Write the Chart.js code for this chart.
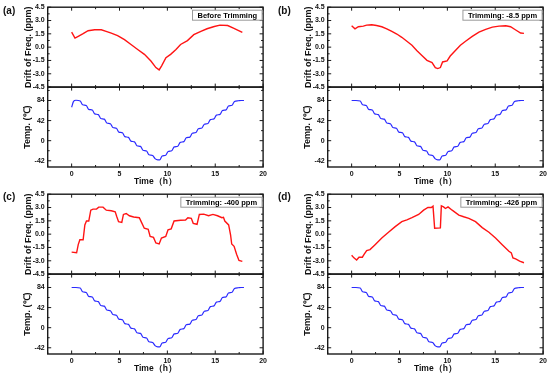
<!DOCTYPE html>
<html lang="en">
<head>
<meta charset="UTF-8">
<title>Drift of frequency and temperature</title>
<script src="https://cdn.jsdelivr.net/npm/chart.js"></script>
<style>
  body { margin: 0; background: #fff; }
  #wrap { position: relative; width: 550px; height: 375px; overflow: hidden; font-family: 'Liberation Sans', Arial, sans-serif; }
  canvas { position: absolute; }
  .tag { position: absolute; font-weight: bold; font-size: 10px; line-height: 10px; color: #111; }
</style>
</head>
<body>
<div id="wrap">
  <canvas id="pa" width="270" height="187" style="left:0;top:0"></canvas>
  <canvas id="pb" width="270" height="187" style="left:280px;top:0"></canvas>
  <canvas id="pc" width="270" height="187" style="left:0;top:187px"></canvas>
  <canvas id="pd" width="270" height="187" style="left:280px;top:187px"></canvas>
  <div class="tag" style="left:3px;top:6px">(a)</div>
  <div class="tag" style="left:278px;top:6px">(b)</div>
  <div class="tag" style="left:3px;top:192px">(c)</div>
  <div class="tag" style="left:278px;top:192px">(d)</div>
</div>
<script>
// axis ticks
const timeTicks = [0, 5, 10, 15, 20]
const timeMinor = [-2.5, 2.5, 7.5, 12.5, 17.5]
const freqTicks = [-4.5, -3, -1.5, 0, 1.5, 3, 4.5]
const freqMinor = [-3.75, -2.25, -0.75, 0.75, 2.25, 3.75]
const tempTicks = [-42, 0, 42, 84]
const tempMinor = [-21, 21, 63, 105]

// temperature profile (h, degC)
const tempTime = [0, 0.2, 0.45, 0.9, 1.15, 1.53, 1.78, 2.16, 2.41, 2.79, 3.04, 3.42, 3.67, 4.05, 4.3, 4.68,
  4.93, 5.31, 5.56, 5.94, 6.19, 6.57, 6.82, 7.2, 7.45, 7.83, 8.08, 8.46, 8.71, 9.0, 9.2, 9.45, 9.83,
  10.08, 10.46, 10.71, 11.09, 11.34, 11.72, 11.97, 12.35, 12.6, 12.98, 13.23, 13.61, 13.86, 14.24,
  14.49, 14.87, 15.12, 15.5, 15.75, 16.13, 16.38, 16.76, 17.01, 17.4, 17.7, 18]
const tempA = [70, 82, 84.5, 83, 75, 73.5, 65.5, 64, 56, 54.5, 46.5, 45, 37, 35.5, 27.5, 26,
  18, 16.5, 8.5, 7, -1, -2.5, -10.5, -12, -20, -21.5, -29.5, -31, -37.5, -40, -40, -32, -30.5,
  -22.5, -21, -13, -11.5, -3.5, -2, 6, 7.5, 15.5, 17, 25, 26.5, 34.5, 36,
  44, 45.5, 53.5, 55, 63, 64.5, 72.5, 74, 82, 83.5, 84, 84]
const tempBCD = [84, 84, 84, 83, 75, 73.5, 65.5, 64, 56, 54.5, 46.5, 45, 37, 35.5, 27.5, 26,
  18, 16.5, 8.5, 7, -1, -2.5, -10.5, -12, -20, -21.5, -29.5, -31, -37.5, -40, -40, -32, -30.5,
  -22.5, -21, -13, -11.5, -3.5, -2, 6, 7.5, 15.5, 17, 25, 26.5, 34.5, 36,
  44, 45.5, 53.5, 55, 63, 64.5, 72.5, 74, 82, 83.5, 84, 84]

// drift of frequency (h, ppm)
const freqA_t = [0, 0.35, 0.69, 1.2, 1.72, 2.41, 3.1, 3.6, 4.14, 4.8, 5.52, 6.2, 6.9, 7.6, 8.28, 8.8,
  9.14, 9.4, 9.85, 10.34, 10.9, 11.38, 12.1, 12.76, 13.5, 14.14, 14.9, 15.5, 16.3, 16.9, 17.83]
const freqA_v = [1.7, 1.03, 1.22, 1.52, 1.85, 1.96, 1.96, 1.78, 1.59, 1.3, 0.85, 0.3, -0.26, -0.81, -1.56, -2.3,
  -2.56, -2.1, -1.19, -0.81, -0.26, 0.3, 0.74, 1.41, 1.78, 2.07, 2.33, 2.48, 2.44, 2.15, 1.67]

const freqB_t = [0, 0.35, 0.7, 1.22, 1.57, 2.1, 2.6, 3.15, 3.67, 4.2, 4.72, 5.24, 5.77, 6.3, 6.8, 7.34,
  7.87, 8.4, 8.74, 9.0, 9.27, 9.5, 9.97, 10.3, 10.84, 11.36, 11.9, 12.6, 13.3, 14.0, 14.7, 15.4,
  16.1, 16.6, 17.1, 17.65, 18.0]
const freqB_v = [2.41, 2.07, 2.3, 2.37, 2.48, 2.52, 2.44, 2.3, 2.07, 1.78, 1.48, 1.11, 0.67, 0.22, -0.37, -0.93,
  -1.48, -1.74, -2.3, -2.41, -2.3, -1.67, -1.56, -1.0, -0.37, 0.22, 0.67, 1.22, 1.7, 2.0, 2.26, 2.37,
  2.41, 2.3, 1.96, 1.59, 1.55]

const freqC_t = [0, 0.52, 0.69, 0.86, 1.2, 1.38, 1.55, 1.79, 2.0, 2.24, 2.6, 2.83, 3.28, 3.62, 4.14, 4.55,
  4.72, 4.9, 5.24, 5.41, 5.7, 6.03, 6.48, 7.07, 7.3, 7.59, 8.0, 8.2, 8.55, 8.8, 9.14, 9.38, 9.83,
  10.07, 10.4, 10.7, 11.38, 11.9, 12.14, 12.5, 12.7, 13.1, 13.34, 13.8, 14.3, 14.76, 15.24, 15.7,
  15.86, 16.0, 16.4, 16.6, 16.72, 16.97, 17.24, 17.48, 17.83]
const freqC_v = [-2.03, -2.1, -1.18, -0.63, -0.63, 1.04, 1.48, 1.48, 2.7, 2.82, 2.82, 3.04, 3.04, 2.7, 2.63, 2.52,
  1.96, 1.41, 1.33, 2.22, 2.33, 2.07, 1.93, 1.85, 1.33, 0.67, 0.55, -0.26, -0.37, -1.0, -1.11, -0.44, -0.26,
  0.48, 0.6, 1.48, 1.56, 1.6, 1.85, 1.78, 1.22, 1.11, 2.22, 2.26, 2.07, 2.22, 2.07, 1.85,
  1.89, 1.48, 1.04, -0.07, -1.11, -1.37, -2.29, -2.96, -3.07]

const freqD_t = [0, 0.24, 0.52, 0.77, 1.12, 1.3, 1.57, 1.92, 2.45, 3.15, 3.85, 4.55, 5.24, 5.77, 6.3, 7.0,
  7.52, 7.97, 8.32, 8.5, 8.67, 9.27, 9.37, 9.6, 9.8, 10.07, 10.5, 11.2, 11.7, 12.24, 12.94, 13.64,
  14.34, 15.03, 15.73, 16.43, 16.68, 16.85, 17.13, 17.55, 18.0]
const freqD_v = [-2.37, -2.67, -2.92, -2.6, -2.6, -2.29, -1.85, -1.74, -1.18, -0.44, 0.22, 0.85, 1.41, 1.6, 1.85, 2.22,
  2.7, 3.0, 3.0, 3.15, 0.67, 0.7, 3.18, 3.07, 2.89, 3.07, 2.7, 2.15, 1.96, 1.78, 1.41, 0.74,
  0.22, -0.44, -1.18, -1.93, -2.11, -2.67, -2.78, -3.03, -3.22]

const FONT = "'Liberation Sans', Arial, sans-serif"
const tickFont = { family: FONT, size: 7, weight: 'bold' }
const titleFont = { family: FONT, size: 9, weight: 'bold' }

const pts = (t, v) => t.map((x, i) => ({ x: x, y: v[i] }))
const setTicks = list => s => { s.ticks = list.map(v => ({ value: v })) }

// box, inward ticks and trimming label
const framePlugin = {
  id: 'frame',
  afterDraw(chart, args, opts) {
    const { ctx, chartArea: a, scales } = chart
    const sx = scales.x
    ctx.save()
    ctx.strokeStyle = '#1a1a1a'
    const tick = (x1, y1, x2, y2) => { ctx.beginPath(); ctx.moveTo(x1, y1); ctx.lineTo(x2, y2); ctx.stroke() }
    ;[['yF', freqTicks, freqMinor], ['yT', tempTicks, tempMinor]].forEach(([id, major, minor]) => {
      const s = scales[id]
      ctx.lineWidth = 1
      major.forEach(v => {
        const y = s.getPixelForValue(v)
        if (y < s.top || y > s.bottom) return
        tick(a.left, y, a.left + 3.5, y); tick(a.right, y, a.right - 3.5, y)
      })
      minor.forEach(v => {
        const y = s.getPixelForValue(v)
        if (y < s.top || y > s.bottom) return
        tick(a.left, y, a.left + 2, y); tick(a.right, y, a.right - 2, y)
      })
      timeTicks.forEach(v => {
        const x = sx.getPixelForValue(v)
        tick(x, s.top, x, s.top + 3.5); tick(x, s.bottom, x, s.bottom - 3.5)
      })
      timeMinor.forEach(v => {
        const x = sx.getPixelForValue(v)
        tick(x, s.top, x, s.top + 2); tick(x, s.bottom, x, s.bottom - 2)
      })
      ctx.lineWidth = 1.4
      ctx.strokeRect(a.left, s.top, a.right - a.left, s.bottom - s.top)
    })
    // label box
    ctx.font = 'bold 7.5px ' + FONT
    const w = ctx.measureText(opts.label).width + 10
    const x0 = a.right - w - 1, y0 = a.top + 3
    ctx.fillStyle = '#fff'
    ctx.fillRect(x0, y0, w, 10)
    ctx.lineWidth = 1
    ctx.strokeStyle = '#9a9a9a'
    ctx.strokeRect(x0, y0, w, 10)
    ctx.fillStyle = '#000'
    ctx.textBaseline = 'middle'
    ctx.fillText(opts.label, x0 + 5, y0 + 5.5)
    ctx.restore()
  }
}

function yAxis(min, max, ticks, title, titlePad, fmt) {
  return {
    type: 'linear', position: 'left', stack: 'v', stackWeight: 1,
    min: min, max: max,
    afterBuildTicks: setTicks(ticks),
    afterFit: s => { s.width = 47.7 },
    grid: { display: false, drawTicks: false },
    border: { display: false },
    ticks: { padding: 3, color: '#111', font: tickFont, autoSkip: false, callback: fmt },
    title: { display: true, text: title, color: '#111', font: titleFont, padding: { top: titlePad, bottom: 0 } }
  }
}

function makePanel(id, label, fT, fV, tT, tV) {
  return new Chart(document.getElementById(id), {
    type: 'line',
    data: {
      datasets: [
        { data: pts(fT, fV), yAxisID: 'yF', borderColor: '#ff1414', borderWidth: 1.4, pointRadius: 0, tension: 0 },
        { data: pts(tT, tV), yAxisID: 'yT', borderColor: '#2a2aff', borderWidth: 1.2, pointRadius: 0, cubicInterpolationMode: 'monotone' }
      ]
    },
    options: {
      responsive: false, animation: false, devicePixelRatio: 1,
      layout: { padding: { top: 5.3, right: 6.7, left: 0, bottom: 0 } },
      plugins: { legend: { display: false }, tooltip: { enabled: false }, frame: { label: label } },
      scales: {
        x: {
          type: 'linear', min: -2.5, max: 20,
          afterBuildTicks: setTicks(timeTicks),
          afterFit: s => { s.height = 20 },
          grid: { display: false, drawTicks: false },
          border: { display: false },
          ticks: { padding: 3, color: '#111', font: tickFont, autoSkip: false, maxRotation: 0 },
          title: { display: true, text: 'Time（h）', color: '#111', font: { family: FONT, size: 8.5, weight: 'bold' }, padding: { top: 0, bottom: 0 } }
        },
        yT: yAxis(-55, 112, tempTicks, 'Temp. (℃)', 22, v => v),
        yF: yAxis(-4.5, 4.5, freqTicks, 'Drift of Freq. (ppm)', 23.5, v => v.toFixed(1))
      }
    },
    plugins: [framePlugin]
  })
}

makePanel('pa', 'Before Trimming', freqA_t, freqA_v, tempTime, tempA)
makePanel('pb', 'Trimming: -8.5 ppm', freqB_t, freqB_v, tempTime, tempBCD)
makePanel('pc', 'Trimming: -400 ppm', freqC_t, freqC_v, tempTime, tempBCD)
makePanel('pd', 'Trimming: -426 ppm', freqD_t, freqD_v, tempTime, tempBCD)
</script>
</body>
</html>
